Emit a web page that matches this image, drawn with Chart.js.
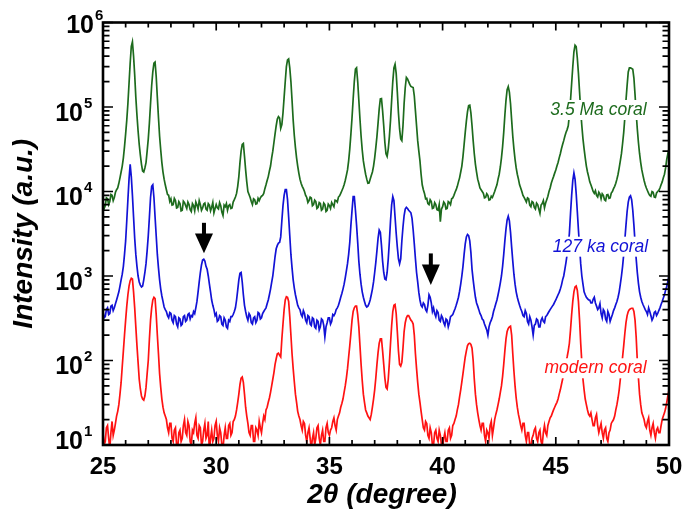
<!DOCTYPE html>
<html><head><meta charset="utf-8">
<script src="https://cdn.jsdelivr.net/npm/chart.js@4/dist/chart.umd.min.js"></script>
<style>html,body{margin:0;padding:0;background:#fff}#wrap{width:685px;height:524px;position:relative;background:#fff}</style>
</head><body><div id="wrap"><canvas id="c" width="685" height="524"></canvas></div>
<script>
// ---- data (2θ in degrees, intensity in a.u.) ----
const twoTheta = [
25,25.05,25.1,25.15,25.2,25.25,25.3,25.35,25.4,25.45,25.5,25.55,25.6,25.65,25.7,25.75,25.8,25.85,25.9,25.95,
26,26.05,26.1,26.15,26.2,26.25,26.3,26.35,26.4,26.45,26.5,26.55,26.6,26.65,26.7,26.75,26.8,26.85,26.9,26.95,
27,27.05,27.1,27.15,27.2,27.25,27.3,27.35,27.4,27.45,27.5,27.55,27.6,27.65,27.7,27.75,27.8,27.85,27.9,27.95,
28,28.05,28.1,28.15,28.2,28.25,28.3,28.35,28.4,28.45,28.5,28.55,28.6,28.65,28.7,28.75,28.8,28.85,28.9,28.95,
29,29.05,29.1,29.15,29.2,29.25,29.3,29.35,29.4,29.45,29.5,29.55,29.6,29.65,29.7,29.75,29.8,29.85,29.9,29.95,
30,30.05,30.1,30.15,30.2,30.25,30.3,30.35,30.4,30.45,30.5,30.55,30.6,30.65,30.7,30.75,30.8,30.85,30.9,30.95,
31,31.05,31.1,31.15,31.2,31.25,31.3,31.35,31.4,31.45,31.5,31.55,31.6,31.65,31.7,31.75,31.8,31.85,31.9,31.95,
32,32.05,32.1,32.15,32.2,32.25,32.3,32.35,32.4,32.45,32.5,32.55,32.6,32.65,32.7,32.75,32.8,32.85,32.9,32.95,
33,33.05,33.1,33.15,33.2,33.25,33.3,33.35,33.4,33.45,33.5,33.55,33.6,33.65,33.7,33.75,33.8,33.85,33.9,33.95,
34,34.05,34.1,34.15,34.2,34.25,34.3,34.35,34.4,34.45,34.5,34.55,34.6,34.65,34.7,34.75,34.8,34.85,34.9,34.95,
35,35.05,35.1,35.15,35.2,35.25,35.3,35.35,35.4,35.45,35.5,35.55,35.6,35.65,35.7,35.75,35.8,35.85,35.9,35.95,
36,36.05,36.1,36.15,36.2,36.25,36.3,36.35,36.4,36.45,36.5,36.55,36.6,36.65,36.7,36.75,36.8,36.85,36.9,36.95,
37,37.05,37.1,37.15,37.2,37.25,37.3,37.35,37.4,37.45,37.5,37.55,37.6,37.65,37.7,37.75,37.8,37.85,37.9,37.95,
38,38.05,38.1,38.15,38.2,38.25,38.3,38.35,38.4,38.45,38.5,38.55,38.6,38.65,38.7,38.75,38.8,38.85,38.9,38.95,
39,39.05,39.1,39.15,39.2,39.25,39.3,39.35,39.4,39.45,39.5,39.55,39.6,39.65,39.7,39.75,39.8,39.85,39.9,39.95,
40,40.05,40.1,40.15,40.2,40.25,40.3,40.35,40.4,40.45,40.5,40.55,40.6,40.65,40.7,40.75,40.8,40.85,40.9,40.95,
41,41.05,41.1,41.15,41.2,41.25,41.3,41.35,41.4,41.45,41.5,41.55,41.6,41.65,41.7,41.75,41.8,41.85,41.9,41.95,
42,42.05,42.1,42.15,42.2,42.25,42.3,42.35,42.4,42.45,42.5,42.55,42.6,42.65,42.7,42.75,42.8,42.85,42.9,42.95,
43,43.05,43.1,43.15,43.2,43.25,43.3,43.35,43.4,43.45,43.5,43.55,43.6,43.65,43.7,43.75,43.8,43.85,43.9,43.95,
44,44.05,44.1,44.15,44.2,44.25,44.3,44.35,44.4,44.45,44.5,44.55,44.6,44.65,44.7,44.75,44.8,44.85,44.9,44.95,
45,45.05,45.1,45.15,45.2,45.25,45.3,45.35,45.4,45.45,45.5,45.55,45.6,45.65,45.7,45.75,45.8,45.85,45.9,45.95,
46,46.05,46.1,46.15,46.2,46.25,46.3,46.35,46.4,46.45,46.5,46.55,46.6,46.65,46.7,46.75,46.8,46.85,46.9,46.95,
47,47.05,47.1,47.15,47.2,47.25,47.3,47.35,47.4,47.45,47.5,47.55,47.6,47.65,47.7,47.75,47.8,47.85,47.9,47.95,
48,48.05,48.1,48.15,48.2,48.25,48.3,48.35,48.4,48.45,48.5,48.55,48.6,48.65,48.7,48.75,48.8,48.85,48.9,48.95,
49,49.05,49.1,49.15,49.2,49.25,49.3,49.35,49.4,49.45,49.5,49.55,49.6,49.65,49.7,49.75,49.8,49.85,49.9,49.95,
50];

const coral35Ma = [
7500,6300,6800,8400,8200,7000,7600,9200,9000,7800,8500,9800,10500,11000,12500,14500,17000,20000,25000,34000,
48000,70000,110000,190000,330000,520000,590000,400000,240000,130000,80000,52000,36000,27000,21000,17500,17000,19000,22000,30000,
42000,65000,110000,180000,260000,330000,340000,230000,130000,75000,45000,31000,22000,17000,14000,12000,10500,9200,9000,7600,
8200,6900,7000,8300,7800,6400,6500,7600,7200,5900,6000,7700,7400,6800,6300,7500,7000,6100,5800,7200,
6800,5900,7500,6900,6200,7800,7000,6000,6400,7100,7300,6200,6000,7200,6900,5900,6500,7400,5600,6300,
7000,6400,6200,7400,6800,5700,5200,6900,6600,7200,6000,6800,7000,6300,6400,7500,8000,8600,9500,11500,
15000,22000,30000,36000,37000,26000,18000,13000,10000,9200,8500,7600,7000,8200,8000,7100,7200,8300,7800,8400,
8800,9000,9500,10800,12000,13500,15000,17500,20000,25000,30000,38000,48000,60000,72000,77000,74000,56000,62000,85000,
130000,200000,300000,360000,370000,290000,200000,120000,70000,46000,33000,25000,20000,16500,14000,12500,11500,10800,10000,9000,
8500,7400,7800,8600,8400,6800,7000,7900,7600,6300,6500,7400,7200,6000,6200,7300,7000,5800,6000,7100,
6800,6300,7400,7000,6600,7900,7800,7500,8600,8900,9500,10200,11000,12000,13500,15500,18000,23000,32000,48000,
75000,125000,200000,280000,290000,200000,120000,72000,45000,31000,23000,19000,16000,14000,12500,12600,14000,15500,17000,20000,
25000,33000,45000,65000,95000,125000,126000,90000,60000,38000,28000,26000,32000,45000,70000,120000,200000,290000,320000,250000,
150000,85000,55000,42000,40000,60000,110000,170000,224000,215000,200000,185000,175000,172000,170000,135000,90000,60000,40000,30000,
23000,16000,12000,10500,9500,8200,8300,7200,7000,8000,7600,6300,6400,7400,7000,6100,6000,7000,4400,6200,
6600,7500,7200,6200,6300,7600,7400,7000,8200,8400,9000,9800,10500,11500,13000,14500,17000,20000,26000,36000,
50000,68000,88000,104000,105000,85000,60000,40000,28000,21000,17000,14000,12500,11000,10500,10000,9500,8400,8500,9400,
9000,7900,8000,8800,8500,9200,10000,11000,12000,14000,16000,19500,25000,34000,50000,80000,120000,160000,174000,150000,
110000,70000,45000,32000,24000,19000,16000,14000,12000,11000,10000,9000,8500,8000,7500,8400,8200,6900,6600,7600,
7400,6500,6200,7300,7000,6200,5500,6900,7200,7800,6400,7300,8000,8800,10000,11000,12500,13800,15000,16500,
18000,20000,22000,25000,28000,32000,36000,40000,45000,50000,54000,60000,80000,120000,190000,300000,450000,540000,520000,380000,
250000,150000,90000,60000,42000,32000,25000,20000,17000,15000,13000,12000,11000,10000,9500,10200,9000,8600,9800,9300,
8200,9400,9000,8000,7800,9100,9200,8300,8400,9600,10000,10800,11500,12500,14000,16000,19000,23000,28000,37000,
50000,75000,120000,180000,260000,290000,290000,285000,280000,220000,140000,85000,55000,38000,28000,22000,18000,15500,13500,12000,
11000,10200,9500,9000,8800,10000,9800,8600,8500,9600,10000,10300,11000,12000,13000,14500,16000,19000,24000,28000,
32000];

const coral127ka = [
380,320,330,400,420,350,360,440,450,390,420,470,520,580,650,760,900,1050,1300,1800,
2600,4500,8000,14000,21000,15000,9000,5000,2800,1800,1300,1000,850,780,740,760,900,1100,1400,2000,
3000,5000,8500,11500,12000,8500,5000,3000,1800,1250,900,700,580,500,430,400,380,340,320,370,
360,300,280,340,330,270,250,320,310,260,270,330,340,290,300,350,360,310,340,330,
380,360,420,500,650,850,1100,1350,1550,1580,1500,1300,1200,1000,800,650,520,450,400,340,
360,290,300,340,330,270,260,320,300,250,240,300,290,330,330,350,380,420,520,680,
900,1080,1100,850,600,450,380,330,300,360,340,280,270,320,330,280,300,370,360,310,
320,360,380,400,420,470,520,600,700,840,1000,1300,1700,2100,2300,2450,2500,2900,4500,6800,
9000,10500,10500,8000,5000,3000,1800,1250,900,720,600,520,450,420,400,350,330,390,360,300,
280,340,330,270,260,320,310,250,240,300,290,230,250,310,300,260,190,250,280,320,
320,270,290,350,340,360,400,420,450,500,560,620,700,800,950,1150,1400,1800,2500,4000,
6000,8700,8700,6000,4000,2500,1500,1050,800,650,560,500,450,430,440,470,520,600,700,850,
1100,1450,2000,2800,3500,3300,2300,1500,1100,920,900,1100,1600,2600,4500,7000,8700,7800,5000,3200,
2200,1600,1400,1600,2600,3800,5200,6200,6500,6300,6000,5800,5600,4800,3500,2400,1600,1100,850,640,
520,450,430,480,460,400,380,450,600,560,480,380,420,360,330,390,370,300,290,340,
320,280,260,310,300,250,280,330,340,350,380,410,450,500,560,660,800,1000,1300,1800,
2400,2900,3100,3000,2600,1900,1200,900,700,560,480,440,400,360,340,310,300,270,250,230,
200,250,280,300,330,380,420,470,520,600,700,830,1000,1300,1800,2600,3600,4600,5100,4500,
3300,2200,1500,1050,800,650,560,500,450,410,380,340,330,390,360,290,270,330,300,250,
200,260,270,310,300,250,250,300,320,290,280,330,340,360,380,400,420,440,460,490,
520,560,600,640,700,780,900,1000,1200,1450,1800,2300,3200,5500,9000,13500,16600,14000,9500,5800,
3500,2200,1400,1000,800,650,600,560,540,520,520,480,480,530,560,480,440,400,420,470,
360,320,400,380,310,290,380,350,290,320,350,390,420,460,500,560,650,800,1000,1300,
1800,2700,4000,5800,7500,8600,8900,8000,6000,4000,2500,1600,1100,820,650,560,500,460,430,400,
380,350,420,380,340,300,320,370,380,340,360,390,420,460,500,550,600,680,750,860,
1000];

const coralModern = [
14,10,11,16,17,12,9,14,19,13,15,18,22,25,30,40,55,85,130,200,
300,440,600,760,880,940,920,650,420,250,150,95,60,46,38,35,34,38,48,70,
100,180,300,420,520,560,540,350,200,120,70,48,35,28,24,22,20,16,14,18,
18,12,11,15,16,10,9,14,15,11,12,17,20,14,13,19,17,11,10,15,
14,18,21,13,12,17,16,10,11,15,18,12,13,19,8,12,15,11,12,17,
19,13,11,16,14,10,9,13,16,12,12,17,18,13,14,19,20,22,26,32,
40,52,62,64,55,40,28,22,18,14,13,17,17,11,11,16,15,13,19,16,
14,18,22,20,26,28,32,36,42,50,60,72,90,105,120,122,115,110,180,270,
400,520,570,560,500,330,200,120,80,56,40,32,25,22,20,17,15,19,18,13,
11,14,16,12,9,12,14,10,12,16,17,12,10,13,15,11,11,16,18,14,
13,15,16,19,21,17,15,20,22,24,28,31,35,42,50,62,80,110,150,210,
300,380,420,440,440,350,250,150,90,58,40,32,26,24,22,21,20,23,28,35,
45,62,90,125,160,180,180,130,90,62,48,46,60,95,160,260,380,450,460,360,
220,130,90,86,95,140,220,280,320,340,340,320,300,290,270,200,120,80,55,40,
32,25,20,16,15,19,18,13,12,16,14,10,10,14,15,12,11,15,13,10,
9,12,14,11,11,15,16,12,13,17,18,20,22,26,30,37,45,56,70,88,
110,130,150,158,160,155,140,100,60,40,30,24,20,17,15,18,18,13,11,15,
14,12,17,19,13,16,20,23,26,30,35,42,50,65,90,130,180,220,240,250,
255,200,120,75,50,36,28,23,20,17,15,18,18,13,11,14,14,10,9,12,
13,15,16,12,11,14,15,11,10,14,17,14,13,17,19,21,22,24,26,28,
30,32,35,40,45,52,60,70,80,95,110,130,160,230,350,500,650,740,760,680,
500,300,160,95,60,45,35,30,26,23,22,24,20,17,17,21,23,17,14,16,
18,14,12,15,16,12,11,14,15,18,19,20,22,26,30,36,45,60,80,110,
150,210,280,340,380,400,410,415,415,380,300,190,100,62,40,30,24,22,20,17,
16,19,21,15,13,16,18,14,12,15,16,14,14,17,20,22,24,27,32,38,
45];

const seriesNames = ['3.5 Ma coral', '127 ka coral', 'modern coral'];
const xTickLabels = [25, 30, 35, 40, 45, 50];
const yTickValues = [1e1, 1e2, 1e3, 1e4, 1e5, 1e6];
const yTickExponents = ['1', '2', '3', '4', '5', '6'];
const xTitle = '2\u03B8 (degree)';
const yTitle = 'Intensity (a.u.)';
// series label anchors (right edge 2θ, baseline intensity)
const labelRightAt = [49.01, 49.08, 49.01];
const labelBaseAt = [80400, 1940, 70.6];
// arrows: 2θ position, tip intensity, tail intensity
const arrowAt = [29.46, 39.48];
const arrowTip = [1860, 782];
const arrowTail = [4260, 1850];

// ---- styles ----
const colors = ['#1d6b1d', '#1212d6', '#ff1212'];
const FONT = '"Liberation Sans", Arial, Helvetica, sans-serif';
// per-label nudges (dx, dy) for the 10^n labels, as placed in the original
const yLabelNudge = [[0, -10], [0, 0], [0, 0], [0, 0], [0, 0], [11, -3]];

const decor = {
  id: 'decor',
  afterDatasetsDraw(chart) {
    const ctx = chart.ctx, a = chart.chartArea, xs = chart.scales.x, ys = chart.scales.y;
    ctx.save();
    // series labels with white backing
    ctx.font = 'italic 17.5px ' + FONT;
    ctx.textAlign = 'right';
    ctx.textBaseline = 'alphabetic';
    for (let i = 0; i < seriesNames.length; i++) {
      const px = xs.getPixelForValue(labelRightAt[i]);
      const py = ys.getPixelForValue(labelBaseAt[i]);
      const w = ctx.measureText(seriesNames[i]).width;
      ctx.fillStyle = '#fff';
      ctx.fillRect(px - w - 3, py - 15, w + 6, 20);
      ctx.fillStyle = colors[i];
      ctx.fillText(seriesNames[i], px, py);
    }
    // arrows
    ctx.fillStyle = '#000';
    for (let i = 0; i < arrowAt.length; i++) {
      const px = xs.getPixelForValue(arrowAt[i]);
      const tip = ys.getPixelForValue(arrowTip[i]);
      const tail = ys.getPixelForValue(arrowTail[i]);
      const headH = (tip - tail) * 0.65;
      ctx.fillRect(px - 2, tail, 4, (tip - tail) - headH + 1);
      ctx.beginPath();
      ctx.moveTo(px - 9, tip - headH);
      ctx.lineTo(px + 9, tip - headH);
      ctx.lineTo(px, tip);
      ctx.closePath();
      ctx.fill();
    }
    // ticks (inward, mirrored)
    ctx.strokeStyle = '#000';
    ctx.lineWidth = 1.7;
    ctx.beginPath();
    for (let v = 25; v <= 50; v++) {
      const px = xs.getPixelForValue(v);
      const L = (v % 5 === 0) ? 8 : 5;
      ctx.moveTo(px, a.bottom); ctx.lineTo(px, a.bottom - L);
      ctx.moveTo(px, a.top); ctx.lineTo(px, a.top + L);
    }
    for (let e = 1; e <= 6; e++) {
      for (let m = 1; m <= 9; m++) {
        if (e === 6 && m > 1) break;
        const py = ys.getPixelForValue(m * Math.pow(10, e));
        const L = (m === 1) ? 10 : 6.5;
        ctx.moveTo(a.left, py); ctx.lineTo(a.left + L, py);
        ctx.moveTo(a.right, py); ctx.lineTo(a.right - L, py);
      }
    }
    ctx.stroke();
    // frame
    ctx.lineWidth = 2.6;
    ctx.strokeRect(a.left, a.top, a.right - a.left, a.bottom - a.top);
    // x tick labels
    ctx.fillStyle = '#000';
    ctx.font = 'bold 24px ' + FONT;
    ctx.textAlign = 'center';
    ctx.textBaseline = 'alphabetic';
    for (const t of xTickLabels) {
      ctx.fillText(String(t), xs.getPixelForValue(t), a.bottom + 28.5);
    }
    // y tick labels 10^n
    for (let i = 0; i < yTickValues.length; i++) {
      const py = ys.getPixelForValue(yTickValues[i]) + yLabelNudge[i][1];
      const dx = yLabelNudge[i][0];
      ctx.font = 'bold 25px ' + FONT;
      ctx.textAlign = 'right';
      ctx.fillText('10', 83 + dx, py + 13.5);
      ctx.font = 'bold 15px ' + FONT;
      ctx.textAlign = 'left';
      ctx.fillText(yTickExponents[i], 84 + dx, py + 0.5);
    }
    // axis titles
    ctx.font = 'italic bold 28px ' + FONT;
    ctx.textAlign = 'center';
    ctx.fillText(xTitle, (a.left + a.right) / 2 - 4, 503);
    ctx.save();
    ctx.translate(32, (a.top + a.bottom) / 2);
    ctx.rotate(-Math.PI / 2);
    ctx.fillText(yTitle, 0, 0);
    ctx.restore();
    ctx.restore();
  }
};

const mk = (arr, i) => ({
  label: seriesNames[i],
  data: twoTheta.map((t, k) => ({ x: t, y: arr[k] })),
  borderColor: colors[i],
  backgroundColor: colors[i],
  borderWidth: 1.7,
  pointRadius: 0,
  tension: 0,
  fill: false
});

new Chart(document.getElementById('c'), {
  type: 'line',
  data: { datasets: [mk(coral35Ma, 0), mk(coral127ka, 1), mk(coralModern, 2)] },
  options: {
    responsive: false,
    animation: false,
    devicePixelRatio: 1,
    layout: { padding: { left: 103, right: 16, top: 22.5, bottom: 79 } },
    plugins: { legend: { display: false }, tooltip: { enabled: false } },
    scales: {
      x: { type: 'linear', min: 25, max: 50, display: false },
      y: { type: 'logarithmic', min: 10, max: 1e6, display: false }
    }
  },
  plugins: [decor]
});
</script>
</body></html>
